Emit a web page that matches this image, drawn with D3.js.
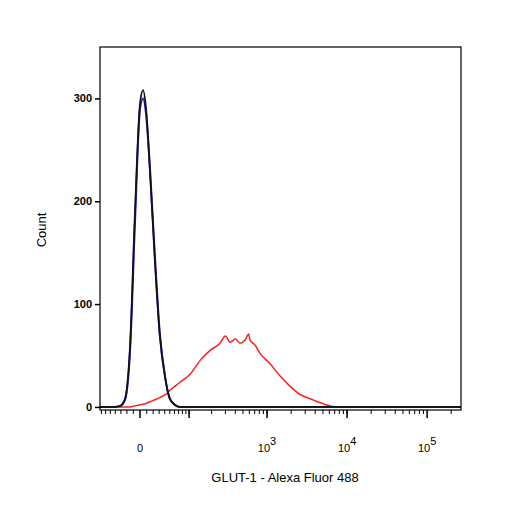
<!DOCTYPE html>
<html><head><meta charset="utf-8">
<script src="https://cdn.jsdelivr.net/npm/d3@7"></script>
<style>body{margin:0;background:#fff}svg{font-family:"Liberation Sans",Arial,sans-serif}</style>
</head><body><svg id="c" width="506" height="506"></svg>
<script>
// histogram data: [fluorescence, count]
const blackX = [-1000, -41, -31, -23, -15, -7.5, 0, 4.5, 9, 15, 23, 31, 41, 50, 61, 74, 104, 1000000];
const blackY = [0, 0, 1, 8, 60, 190, 295, 308, 290, 230, 140, 70, 28, 8, 2, 0, 0, 0];
const blueX = [-1000, -41, -31, -23, -15, -7.5, 0, 4.5, 9, 15, 23, 31, 41, 50, 61, 74, 104, 1000000];
const blueY = [0, 0, 1, 7, 55, 180, 290, 300, 285, 232, 145, 72, 28, 8, 2, 0, 0, 0];
const redX = [-1000, -15, -7.5, 0, 7.5, 15, 23, 31, 41, 50, 61, 74, 104, 141, 191, 256, 300, 343, 400, 460, 530, 590, 613, 710, 818, 1092, 1457, 1943, 2590, 3453, 4605, 6140, 8190, 1000000];
const redY = [0, 0, 1, 2, 3, 5, 7, 9, 12, 16, 20, 24, 32, 45, 55, 62, 69, 63, 66, 62, 65, 71, 65, 60, 52, 42, 30, 20, 12, 8, 4, 1, 0, 0];
const yTicks = [0, 100, 200, 300];
const xMajor = [0, 100, 1000, 10000, 100000];
const xLabels = ["0", "", "10^3", "10^4", "10^5"];

const svg = d3.select("#c");
const m = {l: 100, r: 461, t: 47, b: 410};
const C = 25.9;
const tf = v => Math.asinh(v / (2 * C)) / Math.LN10;
const lin = d3.scaleLinear().domain([-0.5, 4.01]).range([m.l, m.r]).clamp(true);
const x = v => lin(tf(v));
const y = d3.scaleLinear().domain([-3, 350]).range([m.b, m.t]);

const line = d3.line().x(d => x(d[0])).y(d => y(d[1])).curve(d3.curveMonotoneX);
const draw = (xs, ys, col, w) => svg.append("path").datum(d3.zip(xs, ys))
  .attr("d", line).attr("fill", "none").attr("stroke", col).attr("stroke-width", w);
draw(redX, redY, "#ff2020", 1.5);
draw(blueX, blueY, "#2020e0", 2);
draw(blackX, blackY, "#111", 1.8);

svg.append("rect").attr("x", m.l).attr("y", m.t).attr("width", m.r - m.l).attr("height", m.b - m.t)
  .attr("fill", "none").attr("stroke", "#000").attr("stroke-width", 1.2);

// y axis
const ya = svg.append("g").attr("transform", `translate(${m.l},0)`)
  .call(d3.axisLeft(y).tickValues(yTicks).tickSize(5).tickFormat(d3.format("d")));
ya.select(".domain").remove();
ya.selectAll("line").attr("stroke", "#000").attr("stroke-width", 1.5);
ya.selectAll("text").attr("font-size", 11).attr("fill", "#000").attr("font-weight", "bold")
  .attr("font-family", "Liberation Sans, Arial");

// x axis ticks
const minor = [];
for (let k = 1; k <= 9; k++) minor.push(-10 * k);
for (let d = 10; d <= 10000; d *= 10) for (let k = 1; k <= 9; k++) minor.push(k * d);
minor.push(200000);
const g = svg.append("g");
g.selectAll(".mi").data(minor.filter(v => x(v) > m.l && x(v) < m.r)).join("line")
  .attr("x1", d => x(d)).attr("x2", d => x(d)).attr("y1", m.b).attr("y2", m.b + 4)
  .attr("stroke", "#000");
g.selectAll(".ma").data(xMajor).join("line")
  .attr("x1", d => x(d)).attr("x2", d => x(d)).attr("y1", m.b).attr("y2", m.b + 8)
  .attr("stroke", "#000").attr("stroke-width", 1.5);
xMajor.forEach((v, i) => {
  const lab = xLabels[i];
  if (!lab) return;
  const t = g.append("text").attr("x", x(v)).attr("y", 452).attr("text-anchor", "middle")
    .attr("font-size", 11).attr("fill", "#000");
  if (lab.includes("^")) {
    const [b, e] = lab.split("^");
    t.append("tspan").text(b);
    t.append("tspan").attr("dy", -7).text(e);
  } else t.text(lab);
});

svg.append("text").attr("transform", "translate(46,230) rotate(-90)").attr("text-anchor", "middle")
  .attr("font-size", 13).text("Count");
svg.append("text").attr("x", 285).attr("y", 482).attr("text-anchor", "middle")
  .attr("font-size", 13).text("GLUT-1 - Alexa Fluor 488");
</script></body></html>
